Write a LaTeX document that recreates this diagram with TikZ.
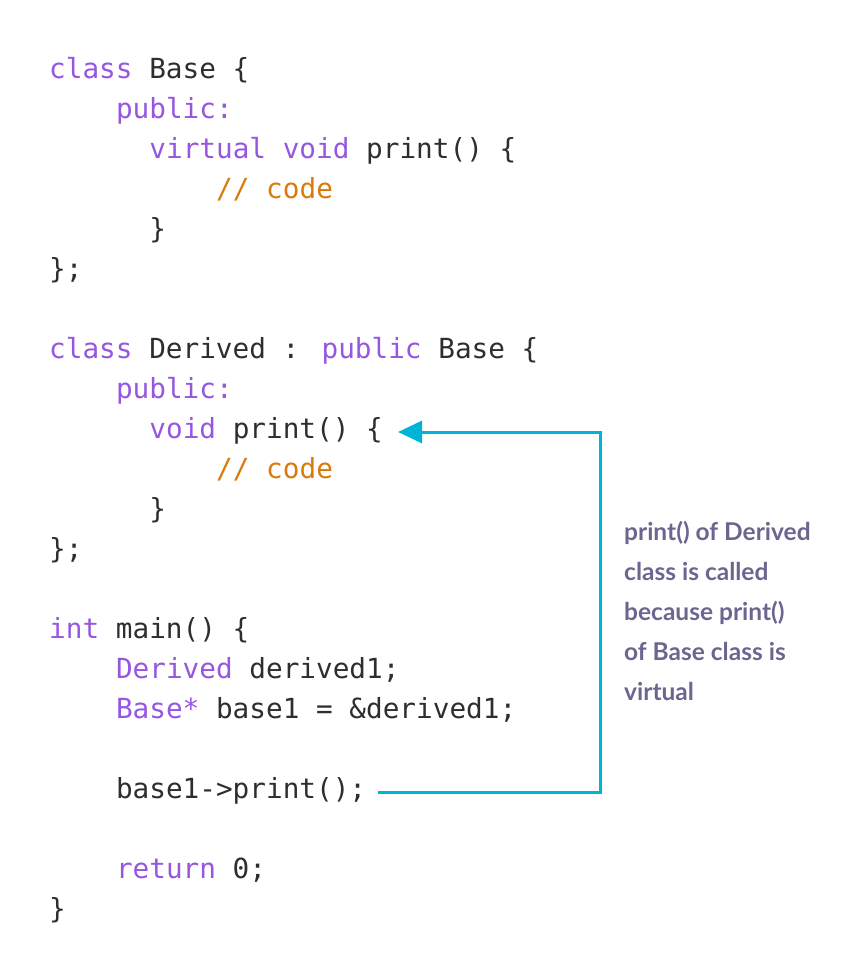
\documentclass[tikz,border=0pt]{standalone}
\usepackage{fontspec}
\usetikzlibrary{arrows.meta}
\newfontfamily\mymono{DejaVu Sans Mono}
\newfontfamily\mysans{Lato}
\definecolor{kw}{HTML}{9656E0}
\definecolor{cm}{HTML}{D97A0B}
\definecolor{tx}{HTML}{2E2E2E}
\definecolor{ar}{HTML}{00B4D8}
\definecolor{nt}{HTML}{6B6690}
\newcommand{\K}[1]{\textcolor{kw}{#1}}
\newcommand{\C}[1]{\textcolor{cm}{#1}}
\begin{document}
\begin{tikzpicture}[x=1pt,y=-1pt,
  code/.style={anchor=base west,inner sep=0pt,text=tx,font=\mymono\fontsize{27.7}{40}\selectfont},
  note/.style={anchor=base west,inner sep=0pt,text=nt,align=left,font=\mysans\bfseries\fontsize{24.5}{40}\selectfont},
  conn/.style={draw=ar,line width=3pt}]
\useasboundingbox (0,0) rectangle (866,970);
\def\cw{16.7}
\node[code] (l1) at (49,78) {\K{class} Base \{};
\node[code] (l2) at (49+4*\cw,118) {\K{public:}};
\node[code] (l3) at (49+6*\cw,158) {\K{virtual} \K{void} print() \{};
\node[code] (l4) at (49+10*\cw,198) {\C{// code}};
\node[code] (l5) at (49+6*\cw,238) {\}};
\node[code] (l6) at (49,278) {\};};
\node[code] (l7) at (49,358) {\K{class} Derived : \K{public} Base \{};
\node[code] (l8) at (49+4*\cw,398) {\K{public:}};
\node[code] (l9) at (49+6*\cw,438) {\K{void} print() \{};
\node[code] (l10) at (49+10*\cw,478) {\C{// code}};
\node[code] (l11) at (49+6*\cw,518) {\}};
\node[code] (l12) at (49,558) {\};};
\node[code] (l13) at (49,638) {\K{int} main() \{};
\node[code] (l14) at (49+4*\cw,678) {\K{Derived} derived1;};
\node[code] (l15) at (49+4*\cw,718) {\K{Base*} base1 = \&derived1;};
\node[code] (l16) at (49+4*\cw,798) {base1->print();};
\node[code] (l17) at (49+4*\cw,878) {\K{return} 0;};
\node[code] (l18) at (49,918) {\}};
\node[note] (n) at (624,700) {print() of Derived\\class is called\\because print()\\of Base class is\\virtual};
\coordinate (s) at (378,792);
\coordinate (c1) at (600,792);
\coordinate (c2) at (600,432);
\coordinate (e) at (398,432);
\draw[conn,-{Triangle[length=24pt,width=22pt]}] (s) -- (c1) -- (c2) -- (e);
\end{tikzpicture}
\end{document}
